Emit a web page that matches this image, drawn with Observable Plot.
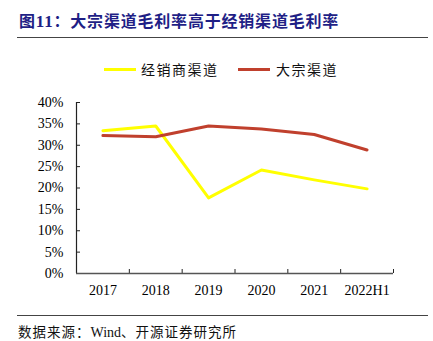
<!DOCTYPE html>
<html><head><meta charset="utf-8">
<script src="https://cdn.jsdelivr.net/npm/d3@7"></script>
<script src="https://cdn.jsdelivr.net/npm/@observablehq/plot@0.6"></script>
<style>
body{margin:0;background:#fff;}
#wrap{position:relative;width:433px;height:341px;overflow:hidden;background:#fff;}
.cjk{font-family:"Noto Sans CJK SC",sans-serif;}
#title{position:absolute;left:19px;top:9px;line-height:22px;font-size:16px;font-weight:bold;color:#1f1f86;letter-spacing:0.8px;white-space:nowrap;}
#title .num{font-family:"Liberation Serif",serif;font-size:17px;}
.hr{position:absolute;left:17px;width:411px;height:0;border-top:1.5px solid #444;}
#legend{position:absolute;top:60px;left:0;width:433px;height:18px;}
.li{position:absolute;top:0;line-height:18px;font-size:14px;letter-spacing:1.5px;color:#111;white-space:nowrap;}
.sw{position:absolute;top:8px;height:3px;width:32px;}
#src{position:absolute;left:18px;top:321px;line-height:20px;font-size:13.5px;letter-spacing:1px;color:#111;white-space:nowrap;}
#src .lat{font-family:"Liberation Serif",serif;font-size:14px;letter-spacing:0;}
#plot{position:absolute;left:0;top:85px;}
</style></head>
<body>
<div id="wrap">
  <div id="title" class="cjk">图<span class="num">11</span>：大宗渠道毛利率高于经销渠道毛利率</div>
  <div class="hr" style="top:37px"></div>
  <div id="legend" class="cjk"></div>
  <div id="plot"></div>
  <div class="hr" style="top:315px"></div>
  <div id="src" class="cjk">数据来源：<span class="lat">Wind</span>、开源证券研究所</div>
</div>
<script>
const years = ["2017", "2018", "2019", "2020", "2021", "2022H1"];
const dealerChannel = [0.334, 0.345, 0.177, 0.242, 0.219, 0.198];
const bulkChannel = [0.323, 0.320, 0.345, 0.338, 0.325, 0.289];
const seriesNames = ["经销商渠道", "大宗渠道"];
const seriesColors = ["#FFFF00", "#C0402D"];
const yTicks = [0, 0.05, 0.1, 0.15, 0.2, 0.25, 0.3, 0.35, 0.4];

const rows = [];
years.forEach((y, i) => {
  rows.push({i, year: y, series: seriesNames[0], value: dealerChannel[i]});
  rows.push({i, year: y, series: seriesNames[1], value: bulkChannel[i]});
});
const centers = years.map((_, i) => i);
const edges = years.map((_, i) => i - 0.5).concat([years.length - 0.5]);

const chart = Plot.plot({
  width: 433,
  height: 220,
  marginLeft: 76,
  marginRight: 40,
  marginTop: 17,
  marginBottom: 32,
  style: {fontFamily: "'Liberation Serif', 'Times New Roman', serif", fontSize: "14px", color: "#000", background: "transparent"},
  x: {type: "linear", domain: [-0.5, years.length - 0.5]},
  y: {domain: [0, 0.4]},
  color: {domain: seriesNames, range: seriesColors},
  marks: [
    Plot.axisY({ticks: yTicks, tickSize: 0, tickPadding: 13, tickFormat: d => Math.round(d * 100) + "%", fontSize: 14, label: null}),
    Plot.axisY({ticks: yTicks, tickSize: -4, fill: "none", label: null, stroke: "#222"}),
    Plot.axisX({ticks: centers, tickSize: 0, tickPadding: 12, tickFormat: i => years[i], fontSize: 14, label: null}),
    Plot.axisX({ticks: edges, tickSize: -4, fill: "none", label: null, stroke: "#222"}),
    Plot.ruleX([-0.5], {stroke: "#222", strokeWidth: 1.2}),
    Plot.ruleY([0], {stroke: "#555", strokeWidth: 1.6}),
    Plot.line(rows, {x: "i", y: "value", z: "series", stroke: "series", strokeWidth: 3})
  ]
});
document.getElementById("plot").appendChild(chart);

const legend = document.getElementById("legend");
const legendPos = [{sw: 104, tx: 141}, {sw: 238, tx: 276}];
seriesNames.forEach((name, k) => {
  const s = document.createElement("div");
  s.className = "sw";
  s.style.left = legendPos[k].sw + "px";
  s.style.background = seriesColors[k];
  legend.appendChild(s);
  const t = document.createElement("div");
  t.className = "li";
  t.style.left = legendPos[k].tx + "px";
  t.textContent = name;
  legend.appendChild(t);
});
</script>
</body></html>
